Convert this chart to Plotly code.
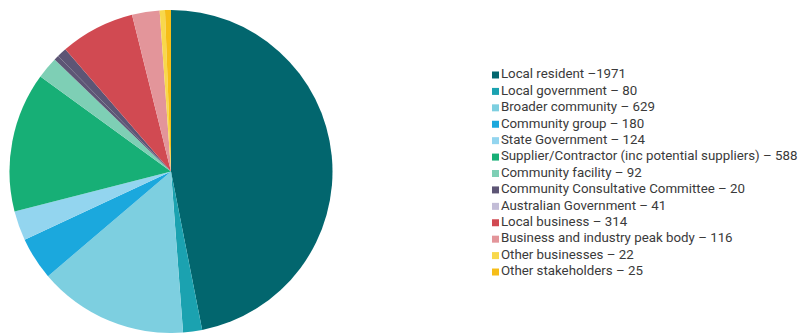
import plotly.graph_objects as go

categories = [
    "Local resident", "Local government", "Broader community", "Community group",
    "State Government", "Supplier/Contractor (inc potential suppliers)",
    "Community facility", "Community Consultative Committee", "Australian Government",
    "Local business", "Business and industry peak body", "Other businesses",
    "Other stakeholders",
]
values = [1971, 80, 629, 180, 124, 588, 92, 20, 41, 314, 116, 22, 25]
legend_colors = [
    "#02666e", "#1ba2b0", "#7dcfe0", "#1ba8dd", "#93d5ef", "#17af76",
    "#7ecfb5", "#5d5575", "#c3bdd7", "#d14a52", "#e3959a", "#f8d84c", "#f6bd18",
]
pie_colors = legend_colors[:8] + ["#5d5575"] + legend_colors[9:]

labels = [f"{c} \u2013{v}" if i == 0 else f"{c} \u2013 {v}" for i, (c, v) in enumerate(zip(categories, values))]
rows = list(range(len(categories)))

W, H = 811, 333
cx, r = 171, 161.5
fig = go.Figure()
fig.add_trace(go.Pie(
    labels=labels, values=values, sort=False, direction="clockwise", rotation=0,
    marker=dict(colors=pie_colors, line=dict(width=0)),
    textinfo="none", hoverinfo="label+percent", showlegend=False,
    domain=dict(x=[(cx - r) / W, (cx + r) / W], y=[0, 1 - 10 / H]),
))
# legend drawn as a marker+text column
fig.add_trace(go.Scatter(
    x=[0] * len(rows), y=rows, mode="markers+text",
    marker=dict(symbol="square", size=7, color=legend_colors, line=dict(width=0)),
    text=labels, textposition="middle right",
    textfont=dict(family="Roboto", size=13.3, color="#3a3a3a"),
    hoverinfo="skip", showlegend=False, cliponaxis=False,
    xaxis="x", yaxis="y",
))
row_px = 16.42
top_px, last_px = 75, 272
fig.update_layout(
    width=W, height=H, margin=dict(l=0, r=0, t=0, b=0),
    paper_bgcolor="white", plot_bgcolor="rgba(0,0,0,0)",
    xaxis=dict(domain=[0.6, 1.0], range=[-0.0275, 0.9725], visible=False, fixedrange=True),
    yaxis=dict(domain=[0, 1], range=[12 + (H - last_px) / row_px, -top_px / row_px],
               visible=False, fixedrange=True),
    showlegend=False,
)
fig.write_html("out.html")
